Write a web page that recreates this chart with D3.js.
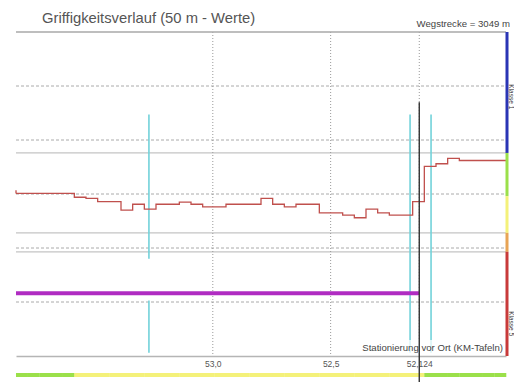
<!DOCTYPE html>
<html><head><meta charset="utf-8">
<script src="https://cdn.jsdelivr.net/npm/d3@7"></script>
<style>
html,body{margin:0;padding:0;background:#fff;}
svg{display:block;font-family:"Liberation Sans",Arial,sans-serif;}
</style></head>
<body>
<svg id="chart" width="514" height="382"></svg>
<script>
// ---- data ----
const title = "Griffigkeitsverlauf (50 m - Werte)";
const distanceLabel = "Wegstrecke = 3049 m";
const stationLabel = "Stationierung vor Ort (KM-Tafeln)";
const kmStart = 53.835;          // station at start of first 50 m segment
const kmEnd = 51.756;            // station at end of last segment
const tickKm = [53.0, 52.5, 52.124];
const tickLabels = ["53,0", "52,5", "52,124"];
// friction value of each 50 m segment
const frictionValues = [
  0.601, 0.601, 0.601, 0.601, 0.601, 0.594, 0.592, 0.586, 0.586, 0.570,
  0.581, 0.572, 0.581, 0.581, 0.585, 0.581, 0.576, 0.576, 0.581, 0.581,
  0.581, 0.592, 0.581, 0.576, 0.581, 0.581, 0.565, 0.565, 0.561, 0.556,
  0.572, 0.565, 0.561, 0.561, 0.586, 0.651, 0.656, 0.666, 0.662, 0.662,
  0.662, 0.662
];
const gridValues = [0.8, 0.7, 0.6, 0.5, 0.4];
const classNames = ["Klasse 1", "Klasse 2", "Klasse 3", "Klasse 4", "Klasse 5"];
const classUpper = [0.9, 0.676, 0.596, 0.528, 0.493];
const classLower = [0.676, 0.596, 0.528, 0.493, 0.3];
const classLinesDrawn = [0.676, 0.528, 0.493];
const classColors = ["#2a35b5", "#9be04a", "#f4f17a", "#e8a455", "#c83a3a"];
const cyanMarksKm = [53.271, 52.163, 52.074];
const blackMarkKm = 52.124;
const purpleFromKm = 53.835, purpleToKm = 52.124, purpleValue = 0.416;

// ---- layout ----
const svg = d3.select("#chart");
const L = 16, R = 506, T = 32, B = 356;
const x = d3.scaleLinear().domain([kmStart, kmEnd]).range([L, R]);
const y = d3.scaleLinear().domain([0.3, 0.9]).range([B, T]);
const segLen = (kmStart - kmEnd) / frictionValues.length;
const classOf = v => classLower.findIndex(lo => v >= lo);

// title
svg.append("text").attr("x", 42).attr("y", 23).attr("font-size", 14.8)
  .attr("fill", "#555").text(title);
svg.append("text").attr("x", 510).attr("y", 27).attr("font-size", 9.6)
  .attr("text-anchor", "end").attr("fill", "#444").text(distanceLabel);

// horizontal dashed grid
svg.append("g").selectAll("line").data(gridValues).join("line")
  .attr("x1", L).attr("x2", R).attr("y1", d => y(d)).attr("y2", d => y(d))
  .attr("stroke", "#aaa").attr("stroke-width", 1).attr("stroke-dasharray", "3,2");

// class boundary lines (solid)
svg.append("g").selectAll("line").data(classLinesDrawn).join("line")
  .attr("x1", L).attr("x2", R).attr("y1", d => y(d)).attr("y2", d => y(d))
  .attr("stroke", "#c4c4c4").attr("stroke-width", 1.2);

// vertical dotted grid
svg.append("g").selectAll("line").data(tickKm).join("line")
  .attr("x1", d => x(d)).attr("x2", d => x(d)).attr("y1", T).attr("y2", B)
  .attr("stroke", "#999").attr("stroke-width", 1).attr("stroke-dasharray", "1,2");

// top line
svg.append("line").attr("x1", L).attr("x2", R).attr("y1", T).attr("y2", T)
  .attr("stroke", "#a8a8a8").attr("stroke-width", 1.5);

// cyan markers
const cyanTop = 0.747, cyanBottom = 0.306;
cyanMarksKm.forEach((k, i) => {
  if (i === 0) {
    svg.append("line").attr("x1", x(k)).attr("x2", x(k)).attr("y1", y(cyanTop)).attr("y2", y(0.48))
      .attr("stroke", "#72d2da").attr("stroke-width", 1.6);
    svg.append("line").attr("x1", x(k)).attr("x2", x(k)).attr("y1", y(0.403)).attr("y2", y(cyanBottom))
      .attr("stroke", "#72d2da").attr("stroke-width", 1.6);
  } else {
    svg.append("line").attr("x1", x(k)).attr("x2", x(k)).attr("y1", y(cyanTop)).attr("y2", y(cyanBottom))
      .attr("stroke", "#72d2da").attr("stroke-width", 1.6);
  }
});

// purple line
svg.append("line").attr("x1", x(purpleFromKm)).attr("x2", x(purpleToKm))
  .attr("y1", y(purpleValue)).attr("y2", y(purpleValue))
  .attr("stroke", "#b02cc2").attr("stroke-width", 4);

// friction step line
const pts = [];
frictionValues.forEach((v, i) => {
  pts.push([kmStart - i * segLen, v]);
  pts.push([kmStart - (i + 1) * segLen, v]);
});
svg.append("path").datum(pts)
  .attr("d", d3.line().x(d => x(d[0])).y(d => y(d[1])))
  .attr("fill", "none").attr("stroke", "#c0504d").attr("stroke-width", 1.3);
svg.append("line").attr("x1", x(kmStart)).attr("x2", x(kmStart))
  .attr("y1", y(0.607)).attr("y2", y(frictionValues[0]))
  .attr("stroke", "#c0504d").attr("stroke-width", 1.3);

// bottom axis
const axis = d3.axisBottom(x).tickValues(tickKm).tickSize(0)
  .tickFormat((d, i) => tickLabels[i]);
const gx = svg.append("g").attr("transform", `translate(0,${B})`).call(axis);
gx.select(".domain").attr("stroke", "#b5b5b5").attr("stroke-width", 1.5);
gx.selectAll("text").attr("font-size", 8.5).attr("fill", "#555").attr("dy", "0.95em")
  .attr("font-family", "Liberation Sans, Arial, sans-serif");

// station label
svg.append("rect").attr("x", 355).attr("y", 340).attr("width", 150).attr("height", 14)
  .attr("fill", "#fff").attr("opacity", 0.75);
svg.append("text").attr("x", 503).attr("y", 351).attr("font-size", 9.6)
  .attr("text-anchor", "end").attr("fill", "#444").text(stationLabel);

// bottom class bar per segment
svg.append("g").selectAll("rect").data(frictionValues).join("rect")
  .attr("x", (d, i) => x(kmStart - i * segLen))
  .attr("width", segLen * (x(0) - x(1)) + 0.3)
  .attr("y", 373).attr("height", 4)
  .attr("fill", d => classColors[classOf(d)]);

// black marker
svg.append("line").attr("x1", x(blackMarkKm)).attr("x2", x(blackMarkKm))
  .attr("y1", y(0.77)).attr("y2", 382)
  .attr("stroke", "#333").attr("stroke-width", 1.4);

// right class bar
svg.append("g").selectAll("rect").data(classNames).join("rect")
  .attr("x", 505.5).attr("width", 3)
  .attr("y", (d, i) => y(classUpper[i])).attr("height", (d, i) => y(classLower[i]) - y(classUpper[i]))
  .attr("fill", (d, i) => classColors[i]);
[[0, 0.78], [4, 0.36]].forEach(([ci, v]) => {
  svg.append("text").attr("transform", `translate(508.6,${y(v)}) rotate(90)`)
    .attr("font-size", 6.5).attr("text-anchor", "middle").attr("fill", "#333")
    .text(classNames[ci]);
});
</script>
</body></html>
